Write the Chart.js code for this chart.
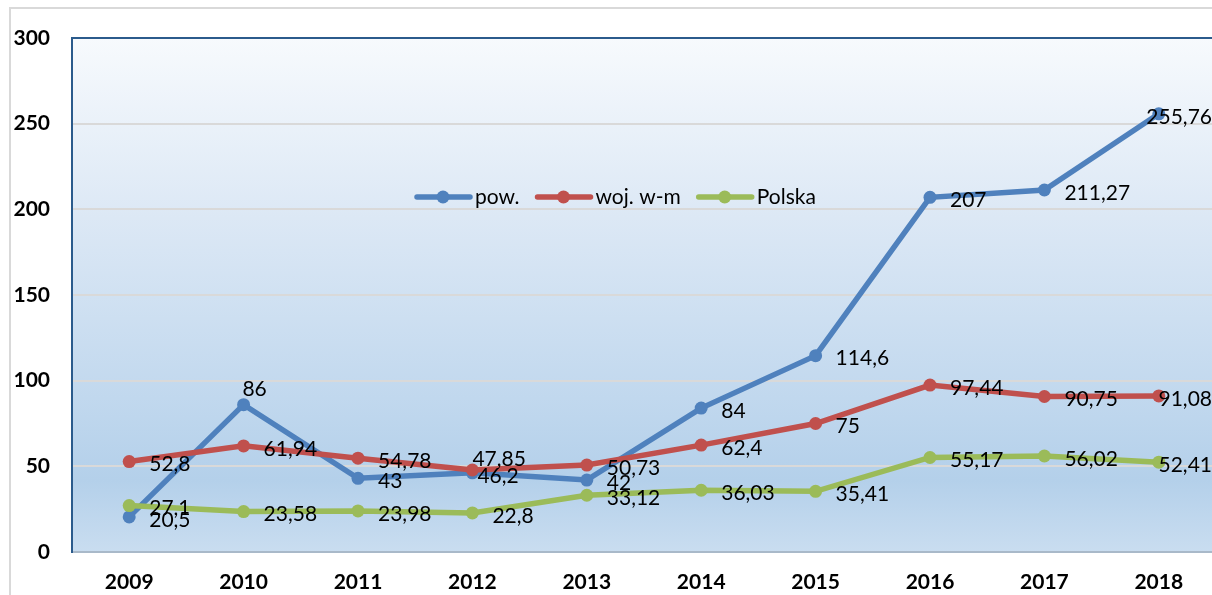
<!DOCTYPE html>
<html>
<head>
<meta charset="utf-8">
<script src="https://cdn.jsdelivr.net/npm/chart.js@4.4.1/dist/chart.umd.min.js"></script>
<style>
  html, body { margin: 0; padding: 0; background: #fff; overflow: hidden; }
  #wrap { width: 1230px; height: 595px; }
</style>
</head>
<body>
<div id="wrap"><canvas id="lineChart" width="1230" height="595"></canvas></div>
<script>
const years = ['2009', '2010', '2011', '2012', '2013', '2014', '2015', '2016', '2017', '2018'];
const powValues = [20.5, 86, 43, 46.2, 42, 84, 114.6, 207, 211.27, 255.76];
const wojValues = [52.8, 61.94, 54.78, 47.85, 50.73, 62.4, 75, 97.44, 90.75, 91.08];
const polskaValues = [27.1, 23.58, 23.98, 22.8, 33.12, 36.03, 35.41, 55.17, 56.02, 52.41];
const seriesNames = ['pow.', 'woj. w-m', 'Polska'];
const seriesColors = ['#4f81bd', '#c0504d', '#9bbb59'];

// labels that were moved by hand in the original
const labelTweaks = {
    '0-1': { above: true },
    '0-3': { dx: 5 },
    '1-3': { dx: 0, dy: -11 }
};

const fmt = v => String(v).replace('.', ',');

const backgroundPlugin = {
    id: 'plotBackground',
    beforeDraw(chart) {
        const { ctx, chartArea: a } = chart;
        ctx.save();
        // outer frame
        ctx.strokeStyle = '#d9d9d9';
        ctx.lineWidth = 2;
        ctx.beginPath();
        ctx.moveTo(10, 700);
        ctx.lineTo(10, 8);
        ctx.lineTo(chart.width + 10, 8);
        ctx.stroke();
        // plot area gradient
        const g = ctx.createLinearGradient(0, a.top, 0, a.bottom);
        g.addColorStop(0, '#f7fafd');
        g.addColorStop(0.35, '#dce8f5');
        g.addColorStop(0.7, '#c1d8ee');
        g.addColorStop(0.86, '#b4d0ea');
        g.addColorStop(1, '#c9ddf0');
        ctx.fillStyle = g;
        ctx.fillRect(a.left, a.top, a.right - a.left, a.bottom - a.top);
        ctx.restore();
    },
    afterDraw(chart) {
        const { ctx, chartArea: a } = chart;
        ctx.save();
        ctx.strokeStyle = '#2b5b8c';
        ctx.lineWidth = 2;
        ctx.beginPath();
        ctx.moveTo(a.left - 1, a.top);
        ctx.lineTo(a.right, a.top);
        ctx.stroke();
        ctx.restore();
    }
};

const valueLabelPlugin = {
    id: 'valueLabels',
    afterDatasetsDraw(chart) {
        const ctx = chart.ctx;
        ctx.save();
        ctx.font = '21px Lato';
        ctx.fillStyle = '#000';
        ctx.textBaseline = 'middle';
        chart.data.datasets.forEach((ds, di) => {
            const meta = chart.getDatasetMeta(di);
            meta.data.forEach((pt, i) => {
                const text = fmt(ds.data[i]);
                const w = ctx.measureText(text).width;
                const t = labelTweaks[di + '-' + i] || {};
                if (t.above) {
                    ctx.textAlign = 'center';
                    ctx.fillText(text, pt.x + 11, pt.y - 15);
                    return;
                }
                ctx.textAlign = 'left';
                let x = pt.x + (t.dx !== undefined ? t.dx : 20);
                x = Math.min(x, 1212 - w);
                ctx.fillText(text, x, pt.y + (t.dy !== undefined ? t.dy : 3));
            });
        });
        ctx.restore();
    }
};

const legendPlugin = {
    id: 'insideLegend',
    afterDraw(chart) {
        const { ctx, chartArea: a } = chart;
        let x = a.left + 343;
        const y = a.top + 159;
        ctx.save();
        ctx.font = '21px Lato';
        ctx.textBaseline = 'middle';
        ctx.textAlign = 'left';
        chart.data.datasets.forEach(ds => {
            ctx.strokeStyle = ds.borderColor;
            ctx.lineWidth = 5.5;
            ctx.lineCap = 'round';
            ctx.beginPath();
            ctx.moveTo(x + 2, y);
            ctx.lineTo(x + 55, y);
            ctx.stroke();
            ctx.fillStyle = ds.borderColor;
            ctx.beginPath();
            ctx.arc(x + 28, y, 6.5, 0, Math.PI * 2);
            ctx.fill();
            ctx.fillStyle = '#000';
            ctx.fillText(ds.label, x + 60, y);
            x += 60 + ctx.measureText(ds.label).width + 16;
        });
        ctx.restore();
    }
};

function makeDataset(name, values, color, order) {
    return {
        label: name,
        data: values,
        borderColor: color,
        backgroundColor: color,
        borderWidth: 5.5,
        pointRadius: 6.5,
        pointBorderWidth: 0,
        pointBackgroundColor: color,
        tension: 0,
        order: order
    };
}

new Chart(document.getElementById('lineChart'), {
    type: 'line',
    data: {
        labels: years,
        datasets: [
            makeDataset(seriesNames[0], powValues, seriesColors[0], 3),
            makeDataset(seriesNames[1], wojValues, seriesColors[1], 2),
            makeDataset(seriesNames[2], polskaValues, seriesColors[2], 1)
        ]
    },
    options: {
        responsive: false,
        animation: false,
        layout: { padding: { top: 38, right: 14, left: 0, bottom: 0 } },
        plugins: { legend: { display: false }, tooltip: { enabled: false } },
        scales: {
            x: {
                offset: true,
                grid: { display: false, drawTicks: false },
                border: { color: '#a9b9c9', width: 2 },
                ticks: { color: '#000', padding: 18, font: { family: 'Lato', size: 21, weight: 'bold' } },
                afterFit(scale) { scale.height = 43; }
            },
            y: {
                min: 0,
                max: 300,
                grid: {
                    drawTicks: false,
                    lineWidth: 2,
                    color: c => (c.tick && (c.tick.value === 0 || c.tick.value === 300)) ? 'rgba(0,0,0,0)' : '#d9d9d9'
                },
                border: { color: '#2b5b8c', width: 2 },
                ticks: { stepSize: 50, color: '#000', padding: 22, font: { family: 'Lato', size: 21, weight: 'bold' } },
                afterFit(scale) { scale.width = 72; }
            }
        }
    },
    plugins: [backgroundPlugin, valueLabelPlugin, legendPlugin]
});
</script>
</body>
</html>
